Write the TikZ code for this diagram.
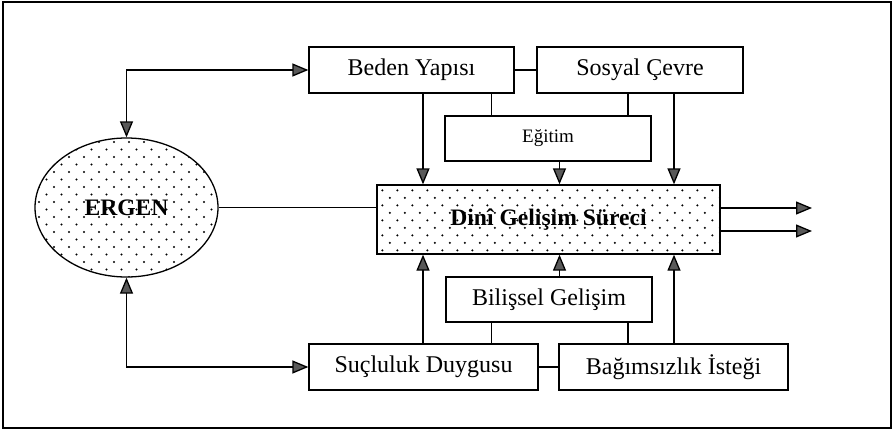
\documentclass[tikz,border=0pt]{standalone}
\usepackage{fontspec}
\setmainfont{Liberation Serif}
\usetikzlibrary{arrows.meta,shapes.geometric,calc,backgrounds}
\begin{document}
\begin{tikzpicture}[x=1pt,y=-1pt,
  line width=1.3pt,
  >={Triangle[length=16pt,width=13pt,fill=black!65]},
  box/.style={draw,inner sep=0pt,font=\fontsize{24}{27}\selectfont},
  boldbox/.style={box,font=\fontsize{23.6}{27}\selectfont\bfseries},
  dotstyle/.style={fill=black},
]
\useasboundingbox (0,0) rectangle (894,431);
\draw[line width=1.5pt] (3,2) rectangle (891,428);

\node[box,minimum width=205pt,minimum height=46pt] (beden) at (411.5,70) {Beden Yapısı};
\node[box,minimum width=206pt,minimum height=46pt] (sosyal) at (640,70) {Sosyal Çevre};
\node[box,minimum width=206pt,minimum height=45pt,font=\fontsize{19}{21}\selectfont] (egitim) at (548,138.5) {Eğitim};
\node[boldbox,minimum width=343pt,minimum height=69pt] (dini) at (548.5,219.5) {Dinî Gelişim Süreci};
\node[boldbox,ellipse,minimum width=183pt,minimum height=139pt] (ergen) at (126.5,207.5) {ERGEN};
\node[box,minimum width=206pt,minimum height=45pt] (bilissel) at (549,299.5) {Bilişsel Gelişim};
\node[box,minimum width=229pt,minimum height=46pt] (suc) at (423.5,367) {Suçluluk Duygusu};
\node[box,minimum width=229pt,minimum height=46pt] (bag) at (673.5,367) {Bağımsızlık İsteği};

\begin{scope}[on background layer]
  \begin{scope}
    \clip (dini.north west) rectangle (dini.south east);
    \foreach \j in {0,...,9} {
      \pgfmathsetmacro\dotoff{mod(\j,2)*7.5}
      \foreach \i in {0,...,23} {
        \fill[dotstyle] ($(dini.north west)+(\i*15+\dotoff+6,\j*7.5+6)$) circle (1.15);
      }
    }
  \end{scope}
  \begin{scope}
    \clip (ergen.center) ellipse [x radius=91.5, y radius=69.5];
    \foreach \j in {0,...,19} {
      \pgfmathsetmacro\dotoff{mod(\j,2)*7.5}
      \foreach \i in {0,...,12} {
        \fill[dotstyle] ($(ergen.center)+(-91.5,-69.5)+(\i*15+\dotoff+4,\j*7.5+4)$) circle (1.15);
      }
    }
  \end{scope}
\end{scope}

\coordinate (c1) at (423,0);
\coordinate (c2) at (491.5,0);
\coordinate (c3) at (559.5,0);
\coordinate (c4) at (628,0);
\coordinate (c5) at (674,0);
\coordinate (o1) at (812,208);
\coordinate (o2) at (812,231);

\draw[<->] (ergen.north) |- (beden.west);
\draw[<->] (ergen.south) |- (suc.west);
\draw (ergen.east) -- (ergen.east -| dini.west);
\draw (beden.east) -- (sosyal.west);
\draw (suc.east) -- (bag.west);

\draw[->] (beden.south -| c1) -- (dini.north -| c1);
\draw (beden.south -| c2) -- (egitim.north -| c2);
\draw[->] (egitim.south -| c3) -- (dini.north -| c3);
\draw (sosyal.south -| c4) -- (egitim.north -| c4);
\draw[->] (sosyal.south -| c5) -- (dini.north -| c5);

\draw[->] (suc.north -| c1) -- (dini.south -| c1);
\draw (suc.north -| c2) -- (bilissel.south -| c2);
\draw[->] (bilissel.north -| c3) -- (dini.south -| c3);
\draw (bag.north -| c4) -- (bilissel.south -| c4);
\draw[->] (bag.north -| c5) -- (dini.south -| c5);

\draw[->] (dini.east |- o1) -- (o1);
\draw[->] (dini.east |- o2) -- (o2);
\end{tikzpicture}
\end{document}
